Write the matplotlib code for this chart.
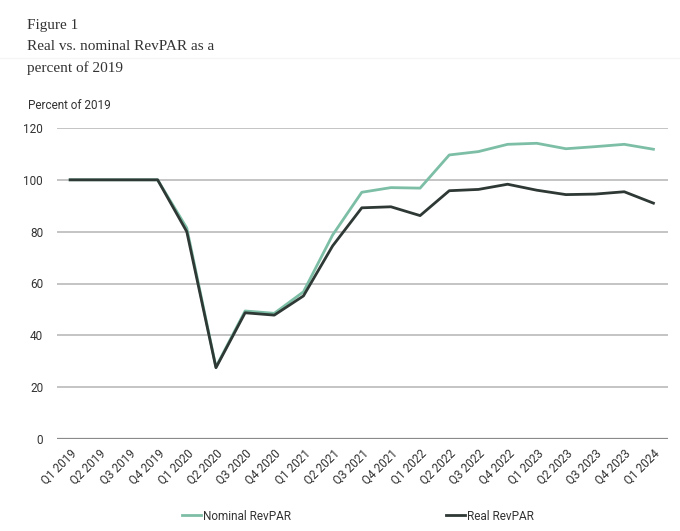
import numpy as np
import matplotlib.pyplot as plt
from matplotlib.lines import Line2D

quarters = ['Q1 2019', 'Q2 2019', 'Q3 2019', 'Q4 2019',
            'Q1 2020', 'Q2 2020', 'Q3 2020', 'Q4 2020',
            'Q1 2021', 'Q2 2021', 'Q3 2021', 'Q4 2021',
            'Q1 2022', 'Q2 2022', 'Q3 2022', 'Q4 2022',
            'Q1 2023', 'Q2 2023', 'Q3 2023', 'Q4 2023',
            'Q1 2024']
nominal = [100, 100, 100, 100, 81.4, 27.8, 49.4, 48.5, 56.8, 78.7, 95.2,
           97.0, 96.8, 109.6, 110.9, 113.7, 114.1, 112.0, 112.8, 113.7, 111.8]
real = [100, 100, 100, 100, 80.0, 27.5, 48.7, 47.8, 55.2, 74.5, 89.2,
        89.6, 86.2, 95.8, 96.3, 98.3, 96.0, 94.3, 94.5, 95.4, 91.0]

NOM_C = '#7dbfa6'
REAL_C = '#2e3834'

plt.rcParams['font.family'] = ['Roboto', 'DejaVu Sans']

fig = plt.figure(figsize=(6.8, 5.31), dpi=100)
ax = fig.add_axes([57/680, 1 - 439/531, (668-57)/680, (439-128)/531])

x = np.arange(len(quarters))
l1, = ax.plot(x, nominal, c=NOM_C, lw=2, label='Nominal RevPAR', zorder=3)
l2, = ax.plot(x, real, c=REAL_C, lw=2, label='Real RevPAR', zorder=4)

ax.set_xlim(-0.45, 20.5)
ax.set_ylim(0, 120)
ax.set_yticks(range(0, 121, 20))
for yv in range(20, 121, 20):
    ax.axhline(yv, c='#b4b4b4', lw=1.1, zorder=1)
ax.axhline(0, c='#8a8a8a', lw=1.6, zorder=2)

ax.set_xticks(x)
ax.set_xticklabels(quarters, rotation=45, ha='right', va='top',
                   rotation_mode='anchor', fontsize=8.5, color='#333333')
ax.tick_params(axis='y', labelsize=8.5, labelcolor='#333333', length=0, pad=10)
ax.tick_params(axis='x', length=0, pad=6)
for s in ax.spines.values():
    s.set_visible(False)

# titles
serif = 'Liberation Serif'
fig.text(27/680, 1 - 26/531, 'Figure 1', family=serif,
         fontsize=11, color='#333333', va='center')
fig.text(27/680, 1 - 47/531, 'Real vs. nominal RevPAR as a', family=serif,
         fontsize=11, color='#333333', va='center')
fig.text(27/680, 1 - 68/531, 'percent of 2019', family=serif,
         fontsize=11, color='#333333', va='center')
fig.add_artist(Line2D([0, 1], [1 - 58/531, 1 - 58/531], c='#f5f5f5', lw=1, zorder=-5))
fig.text(28/680, 1 - 105/531, 'Percent of 2019', fontsize=8.5,
         color='#333333', va='center')

# legend
fig.legend(handles=[l1, l2], loc='center', bbox_to_anchor=(358/680, 1 - 516/531),
           ncol=2, frameon=False, fontsize=8.5, handlelength=1.6,
           handletextpad=0.15, columnspacing=13.2, labelcolor='#333333')

fig.savefig('out.png', dpi=100)
